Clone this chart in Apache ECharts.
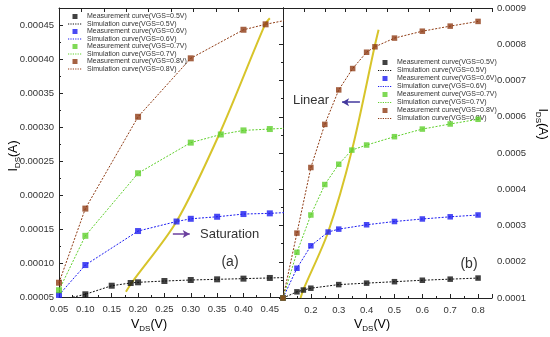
<!DOCTYPE html>
<html><head><meta charset="utf-8">
<script src="https://cdn.jsdelivr.net/npm/echarts@6/dist/echarts.min.js"></script>
<style>html,body{margin:0;padding:0;background:#fff}#c{width:550px;height:337px}</style>
</head><body><div id="c"></div>
<script>
// ---------- data: panel (a) ----------
const aVdsBlack = [0.05, 0.10, 0.15, 0.186, 0.20, 0.25, 0.30, 0.35, 0.40, 0.45, 0.50];
const aIdsBlack = [0.000045, 0.000054, 0.0000666, 0.0000706, 0.0000716, 0.0000735, 0.000075, 0.000076, 0.000077, 0.000078, 0.000079];
const aVdsBlue = [0.05, 0.10, 0.20, 0.273, 0.30, 0.35, 0.40, 0.45, 0.50];
const aIdsBlue = [0.000053, 0.000097, 0.000147, 0.000161, 0.000165, 0.000168, 0.000172, 0.000173, 0.000175];
const aVdsGreen = [0.05, 0.10, 0.20, 0.30, 0.357, 0.40, 0.45, 0.50];
const aIdsGreen = [0.00006, 0.00014, 0.000232, 0.000277, 0.000289, 0.000295, 0.000297, 0.000299];
const aVdsBrown = [0.05, 0.10, 0.20, 0.30, 0.40, 0.442, 0.50];
const aIdsBrown = [0.000071, 0.00018, 0.000315, 0.000401, 0.000443, 0.000451, 0.00046];
const aVdsYellow = [0.177, 0.188, 0.273, 0.355, 0.441, 0.45];
const aIdsYellow = [0.0000578, 0.000071, 0.000161, 0.000291, 0.000451, 0.00046];
// ---------- data: panel (b) ----------
const bVdsBlack = [0.10, 0.15, 0.173, 0.20, 0.30, 0.40, 0.50, 0.60, 0.70, 0.80];
const bIdsBlack = [0.0001, 0.000117, 0.000122, 0.000127, 0.000137, 0.000141, 0.000145, 0.000149, 0.000152, 0.000155];
const bVdsBlue = [0.10, 0.15, 0.20, 0.262, 0.30, 0.40, 0.50, 0.60, 0.70, 0.80];
const bIdsBlue = [0.0001, 0.000182, 0.000244, 0.000282, 0.00029, 0.000302, 0.000311, 0.000318, 0.000324, 0.000329];
const bVdsGreen = [0.10, 0.15, 0.20, 0.25, 0.30, 0.347, 0.40, 0.50, 0.60, 0.70, 0.80];
const bIdsGreen = [0.0001, 0.000226, 0.000329, 0.000413, 0.000469, 0.000508, 0.000522, 0.000545, 0.000566, 0.00058, 0.000593];
const bVdsBrown = [0.10, 0.15, 0.20, 0.25, 0.30, 0.35, 0.40, 0.43, 0.50, 0.60, 0.70, 0.80];
const bIdsBrown = [0.0001, 0.000279, 0.00046, 0.000579, 0.000674, 0.000733, 0.000778, 0.000793, 0.000817, 0.000836, 0.00085, 0.000863];
const bVdsYellow = [0.163, 0.1725, 0.262, 0.3475, 0.4286, 0.443];
const bIdsYellow = [0.0001, 0.000122, 0.000282, 0.000508, 0.000793, 0.00084];
// ---------- labels ----------
const seriesNames = ['VGS=0.5V', 'VGS=0.6V', 'VGS=0.7V', 'VGS=0.8V'];
const aXTickLabels = ['0.05','0.10','0.15','0.20','0.25','0.30','0.35','0.40','0.45'];
const aYTickLabels = ['0.00005','0.00010','0.00015','0.00020','0.00025','0.00030','0.00035','0.00040','0.00045'];
const bXTickLabels = ['0.2','0.3','0.4','0.5','0.6','0.7','0.8'];
const bYTickLabels = ['0.0001','0.0002','0.0003','0.0004','0.0005','0.0006','0.0007','0.0008','0.0009'];

const colors = ['#111111', '#1c1cf0', '#5fcf2c', '#8e3b14'];
const yellow = '#d7c42a';

function zip(xs, ys) { return xs.map((x, i) => [x, ys[i]]); }
function lookup(labels) {
  return function (v) {
    for (const l of labels) if (Math.abs(Number(l) - v) < 1e-9) return l;
    return '';
  };
}
const measName = n => 'Measurement curve(' + n + ')';
const simName = n => 'Simulation curve(' + n + ')';

const panels = [
  { xi: 0, yi: 0, data: [[aVdsBlack, aIdsBlack], [aVdsBlue, aIdsBlue], [aVdsGreen, aIdsGreen], [aVdsBrown, aIdsBrown]], yel: [aVdsYellow, aIdsYellow], size: 6 },
  { xi: 2, yi: 2, data: [[bVdsBlack, bIdsBlack], [bVdsBlue, bIdsBlue], [bVdsGreen, bIdsGreen], [bVdsBrown, bIdsBrown]], yel: [bVdsYellow, bIdsYellow], size: 5.5 }
];
const series = [];
panels.forEach(p => {
  p.data.forEach((d, i) => {
    series.push({
      type: 'line', name: simName(seriesNames[i]), xAxisIndex: p.xi, yAxisIndex: p.yi,
      data: zip(d[0], d[1]), symbol: 'none', clip: true, z: 2,
      lineStyle: { color: colors[i], width: 1, type: [2, 1.5] }, itemStyle: { color: colors[i] }
    });
  });
  series.push({
    type: 'line', name: 'yellow', xAxisIndex: p.xi, yAxisIndex: p.yi,
    data: zip(p.yel[0], p.yel[1]), symbol: 'none', smooth: 0.3, clip: true, z: 3,
    lineStyle: { color: yellow, width: 2 }
  });
  p.data.forEach((d, i) => {
    series.push({
      type: 'scatter', name: measName(seriesNames[i]), xAxisIndex: p.xi, yAxisIndex: p.yi,
      data: zip(d[0], d[1]), symbol: 'rect', symbolSize: p.size, clip: true, z: 4,
      itemStyle: { color: colors[i] }
    });
  });
});
// arrows
series.push({
  type: 'line', name: 'arrowA', xAxisIndex: 0, yAxisIndex: 0, data: [], symbol: 'none',
  markLine: { silent: true, symbol: ['none', 'arrow'], symbolSize: [6, 7], label: { show: false },
    lineStyle: { color: '#6b3f9e', width: 1.5, type: 'solid' },
    data: [[{ coord: [0.266, 0.0001426] }, { coord: [0.298, 0.0001426] }]] }
});
series.push({
  type: 'line', name: 'arrowB', xAxisIndex: 2, yAxisIndex: 2, data: [], symbol: 'none',
  markLine: { silent: true, symbol: ['none', 'arrow'], symbolSize: [6, 7], label: { show: false },
    lineStyle: { color: '#43389e', width: 1.5, type: 'solid' },
    data: [[{ coord: [0.376, 0.00064] }, { coord: [0.312, 0.00064] }]] }
});

// legend icons: square for measurement, dotted line for simulation (14x5 box)
const squareIcon = 'path://M0,0M14,5M4.5,0h5v5h-5z';
let dots = 'path://M0,0M14,5';
for (let k = 0; k < 6; k++) dots += 'M' + (k * 2.4) + ',2h1.2v1h-1.2z';
const legendData = [];
seriesNames.forEach(n => {
  legendData.push({ name: measName(n), icon: squareIcon });
  legendData.push({ name: simName(n), icon: dots });
});
const legendCommon = {
  orient: 'vertical', padding: 0, itemWidth: 14, itemHeight: 5, selectedMode: false,
  itemStyle: { borderWidth: 0 },
  textStyle: { fontSize: 7, color: '#333', fontFamily: 'Liberation Sans Narrow, Liberation Sans, Arial', lineHeight: 7 },
  data: legendData
};

const axisLine = { show: true, lineStyle: { color: '#222', width: 1 } };
const tickIn = { show: true, inside: true, length: 4, lineStyle: { color: '#222' } };
const minorIn = { show: true, splitNumber: 2, length: 2, lineStyle: { color: '#222' } };
const lblStyle = { fontSize: 9.5, color: '#333', fontFamily: 'Liberation Sans, Arial' };

const chart = echarts.init(document.getElementById('c'), null, { renderer: 'canvas' });
chart.setOption({
  backgroundColor: '#fff',
  animation: false,
  grid: [
    { left: 59, top: 8, width: 224, height: 289 },
    { left: 283, top: 8, width: 209, height: 290 }
  ],
  legend: [
    Object.assign({ left: 68, top: 13, itemGap: 0.5 }, legendCommon),
    Object.assign({ left: 378, top: 59, itemGap: 1 }, legendCommon)
  ],
  xAxis: [
    { type: 'value', gridIndex: 0, min: 0.05, max: 0.475, interval: 0.05, position: 'bottom',
      axisLine, axisTick: tickIn, minorTick: minorIn, splitLine: { show: false },
      axisLabel: Object.assign({ margin: 7, showMaxLabel: false, formatter: lookup(aXTickLabels) }, lblStyle) },
    { type: 'value', gridIndex: 0, min: 0, max: 10, interval: 1, position: 'top',
      axisLine, axisTick: tickIn, splitLine: { show: false }, axisLabel: { show: false } },
    { type: 'value', gridIndex: 1, min: 0.1, max: 0.85, interval: 0.1, position: 'bottom',
      axisLine, axisTick: tickIn, minorTick: minorIn, splitLine: { show: false },
      axisLabel: Object.assign({ margin: 7, formatter: lookup(bXTickLabels) }, lblStyle) },
    { type: 'value', gridIndex: 1, min: 0, max: 10, interval: 1, position: 'top',
      axisLine, axisTick: tickIn, splitLine: { show: false }, axisLabel: { show: false } }
  ],
  yAxis: [
    { type: 'value', gridIndex: 0, min: 0.00005, max: 0.000475, interval: 0.00005, position: 'left',
      axisLine, axisTick: tickIn, minorTick: minorIn, splitLine: { show: false },
      axisLabel: Object.assign({ margin: 5, formatter: lookup(aYTickLabels) }, lblStyle) },
    { type: 'value', gridIndex: 0, min: 0, max: 1, position: 'right',
      axisLine, axisTick: { show: false }, splitLine: { show: false }, axisLabel: { show: false } },
    { type: 'value', gridIndex: 1, min: 0.0001, max: 0.0009, interval: 0.0001, position: 'right',
      axisLine, axisTick: tickIn, minorTick: minorIn, splitLine: { show: false },
      axisLabel: Object.assign({ margin: 5, formatter: lookup(bYTickLabels) }, lblStyle) },
    { type: 'value', gridIndex: 1, min: 0, max: 1, position: 'left',
      axisLine, axisTick: { show: false }, splitLine: { show: false }, axisLabel: { show: false } }
  ],
  series,
  graphic: (function () {
    const rich = {
      a: { fontSize: 12.5, lineHeight: 16, color: '#333', fontFamily: 'Liberation Sans, Arial' },
      s: { fontSize: 8, lineHeight: 9, verticalAlign: 'bottom', color: '#333', fontFamily: 'Liberation Sans, Arial' }
    };
    const t = (x, y, text, opt) => Object.assign({ type: 'text', x, y, style: Object.assign({ text, align: 'center', verticalAlign: 'middle', fill: '#333', font: '13px Liberation Sans, Arial' }, opt || {}) });
    return [
      { type: 'text', x: 149, y: 325, style: { text: '{a|V}{s|DS}{a|(V)}', rich, align: 'center', verticalAlign: 'middle' } },
      { type: 'text', x: 372, y: 325, style: { text: '{a|V}{s|DS}{a|(V)}', rich, align: 'center', verticalAlign: 'middle' } },
      { type: 'text', x: 14, y: 156, rotation: Math.PI / 2, style: { text: '{a|I}{s|DS}{a|(A)}', rich, align: 'center', verticalAlign: 'middle' } },
      { type: 'text', x: 542, y: 124, rotation: -Math.PI / 2, style: { text: '{a|I}{s|DS}{a|(A)}', rich, align: 'center', verticalAlign: 'middle' } },
      t(200, 234, 'Saturation', { align: 'left' }),
      t(230, 262, '(a)', { font: '14px Liberation Sans, Arial' }),
      t(311, 100, 'Linear'),
      t(469, 264, '(b)', { font: '14px Liberation Sans, Arial' })
    ];
  })()
});
</script></body></html>
